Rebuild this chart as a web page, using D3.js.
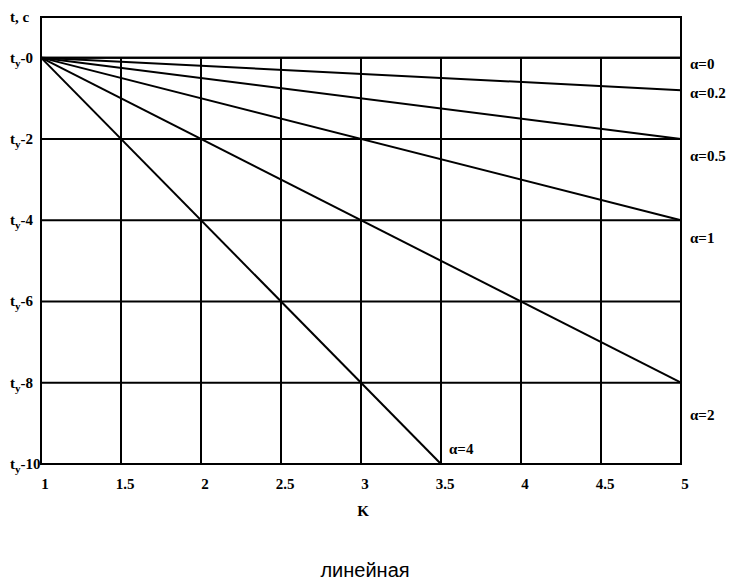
<!DOCTYPE html>
<html><head><meta charset="utf-8">
<script src="https://cdn.jsdelivr.net/npm/d3@7"></script>
<style>body{margin:0;background:#fff} .s{font-family:"Liberation Serif","Times New Roman",serif;font-weight:bold;font-size:15px}</style>
</head><body>
<svg id="c" width="734" height="584"></svg>
<script>
// ---- data ----
const kTicks = [1, 1.5, 2, 2.5, 3, 3.5, 4, 4.5, 5];
const tTicks = [0, -2, -4, -6, -8, -10];
const tTickLabels = ["0", "2", "4", "6", "8", "10"];
const alphas = [0, 0.2, 0.5, 1, 2, 4];
const seriesK = [[1, 5], [1, 5], [1, 5], [1, 5], [1, 5], [1, 3.5]];
const seriesT = [[0, 0], [0, -0.8], [0, -2], [0, -4], [0, -8], [0, -10]];
const alphaLabels = ["α=0", "α=0.2", "α=0.5", "α=1", "α=2", "α=4"];
const xTitle = "K";
const yTitle = "t, c";
const caption = "линейная";

// ---- layout ----
const labelPos = [[5, -0.15], [5, -0.88], [5, -2.43], [5, -4.45], [5, -8.8], [3.5, -9.62]];
const labelDx = [9, 9, 9, 9, 9, 8];

const svg = d3.select("#c");
const x = d3.scaleLinear().domain([1, 5]).range([41, 681]);
const y = d3.scaleLinear().domain([-10, 1]).range([464, 17]);

// grid
svg.append("g").selectAll("line").data(kTicks.slice(1, -1)).join("line")
  .attr("x1", d => x(d)).attr("x2", d => x(d))
  .attr("y1", y(0)).attr("y2", y(-10))
  .attr("stroke", "#000").attr("stroke-width", 2);
svg.append("g").selectAll("line").data(tTicks).join("line")
  .attr("x1", x(1)).attr("x2", x(5))
  .attr("y1", d => y(d)).attr("y2", d => y(d))
  .attr("stroke", "#000").attr("stroke-width", 2);

// frame
svg.append("rect").attr("x", x(1)).attr("y", y(1))
  .attr("width", x(5) - x(1)).attr("height", y(-10) - y(1))
  .attr("fill", "none").attr("stroke", "#000").attr("stroke-width", 2);

// series lines
const line = d3.line().x(d => x(d[0])).y(d => y(d[1]));
svg.append("g").selectAll("path").data(alphas.map((a, i) => seriesK[i].map((k, j) => [k, seriesT[i][j]])))
  .join("path").attr("d", line).attr("fill", "none")
  .attr("stroke", "#000").attr("stroke-width", 2);

// x tick labels
svg.append("g").selectAll("text").data(kTicks).join("text")
  .attr("class", "s")
  .attr("x", d => x(d) + 4).attr("y", 489)
  .attr("text-anchor", "middle")
  .text(d => d);

// y tick labels
const yl = svg.append("g").selectAll("text").data(tTicks).join("text")
  .attr("class", "s")
  .attr("x", 10).attr("y", d => y(d) + 5);
yl.append("tspan").text("t");
yl.append("tspan").attr("dy", 4).style("font-size", "11px").text("у");
yl.append("tspan").attr("dy", -4).text((d, i) => "-" + tTickLabels[i]);

// axis titles
svg.append("text").attr("class", "s").attr("x", 10).attr("y", 22).text(yTitle);
svg.append("text").attr("class", "s").attr("x", 363).attr("y", 516).attr("text-anchor", "middle").text(xTitle);

// alpha labels
svg.append("g").selectAll("text").data(alphaLabels).join("text")
  .attr("class", "s")
  .attr("x", (d, i) => x(labelPos[i][0]) + labelDx[i])
  .attr("y", (d, i) => y(labelPos[i][1]) + 5)
  .text(d => d);

// caption
svg.append("text").attr("x", 365).attr("y", 577).attr("text-anchor", "middle")
  .attr("font-family", "'Liberation Sans',Arial,sans-serif").attr("font-size", 20)
  .text(caption);
</script>
</body></html>
